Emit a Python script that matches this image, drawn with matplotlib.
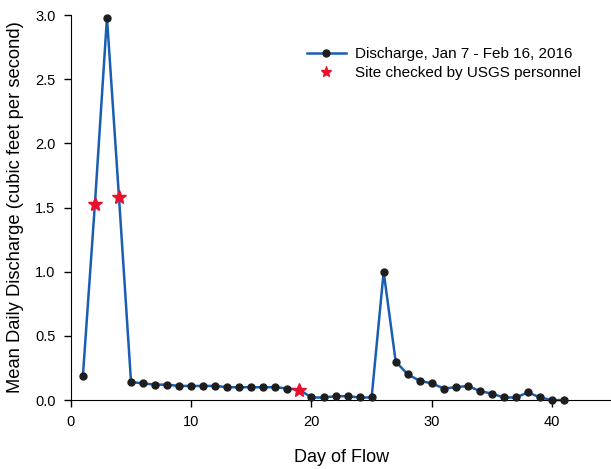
import matplotlib
matplotlib.use("Agg")
import matplotlib.pyplot as plt
import numpy as np

plt.rcParams['font.family'] = ['Liberation Sans', 'DejaVu Sans']

# mean daily discharge, days 1..41 (Jan 7 - Feb 16, 2016)
days = list(range(1, 42))
discharge = [0.19, 1.53, 2.98, 1.58, 0.14, 0.13, 0.12, 0.12, 0.11, 0.11,
             0.11, 0.11, 0.10, 0.10, 0.10, 0.10, 0.10, 0.09, 0.08, 0.02,
             0.02, 0.03, 0.03, 0.02, 0.02, 1.00, 0.30, 0.20, 0.15, 0.13,
             0.09, 0.10, 0.11, 0.07, 0.05, 0.02, 0.02, 0.06, 0.02, 0.00,
             0.00]
checked_days = [2, 4, 19]

line_color = "#1a5eb4"
dot_color = "#1e1e1e"
star_color = "#e8112d"

days_arr = np.array(days)
q = np.array(discharge)
is_checked = np.isin(days_arr, checked_days)

fig = plt.figure(figsize=(6.11, 4.69), dpi=100)
ax = fig.add_axes([0.116, 0.147, 0.886, 0.821])

# discharge line with dots (dots hidden under the stars)
ax.plot(days_arr, q, color=line_color, lw=1.8, zorder=2, clip_on=False)
ax.plot(days_arr[~is_checked], q[~is_checked], 'o', color=dot_color,
        markersize=5, zorder=3, clip_on=False)
ax.plot(days_arr[is_checked], q[is_checked], '*', color=star_color,
        markersize=10, zorder=4, clip_on=False)

# legend proxies
h1, = ax.plot([], [], '-o', color=line_color, lw=1.8, mfc=dot_color,
              mec=dot_color, markersize=5)
h2, = ax.plot([], [], '*', color=star_color, markersize=8, ls='none')
leg = ax.legend([h1, h2], ["Discharge, Jan 7 - Feb 16, 2016",
                           "Site checked by USGS personnel"],
                loc='upper left', bbox_to_anchor=(0.41, 0.953), frameon=False,
                fontsize=11, handlelength=2.6, handletextpad=0.6,
                labelspacing=0.35)

ax.set_xlim(0, 45)
ax.set_ylim(0, 3.0)
ax.set_xticks([0, 10, 20, 30, 40])
ax.set_yticks(np.arange(0, 3.01, 0.5))
ax.set_yticklabels([f"{v:.1f}" for v in np.arange(0, 3.01, 0.5)])
ax.tick_params(labelsize=10.5, direction='out', length=5, width=1, pad=6)

ax.spines['top'].set_visible(False)
ax.spines['right'].set_visible(False)

ax.set_xlabel("Day of Flow", fontsize=13, labelpad=14)
ax.set_ylabel("Mean Daily Discharge (cubic feet per second)", fontsize=13.2,
              labelpad=8)

fig.savefig("out.png", dpi=100)
